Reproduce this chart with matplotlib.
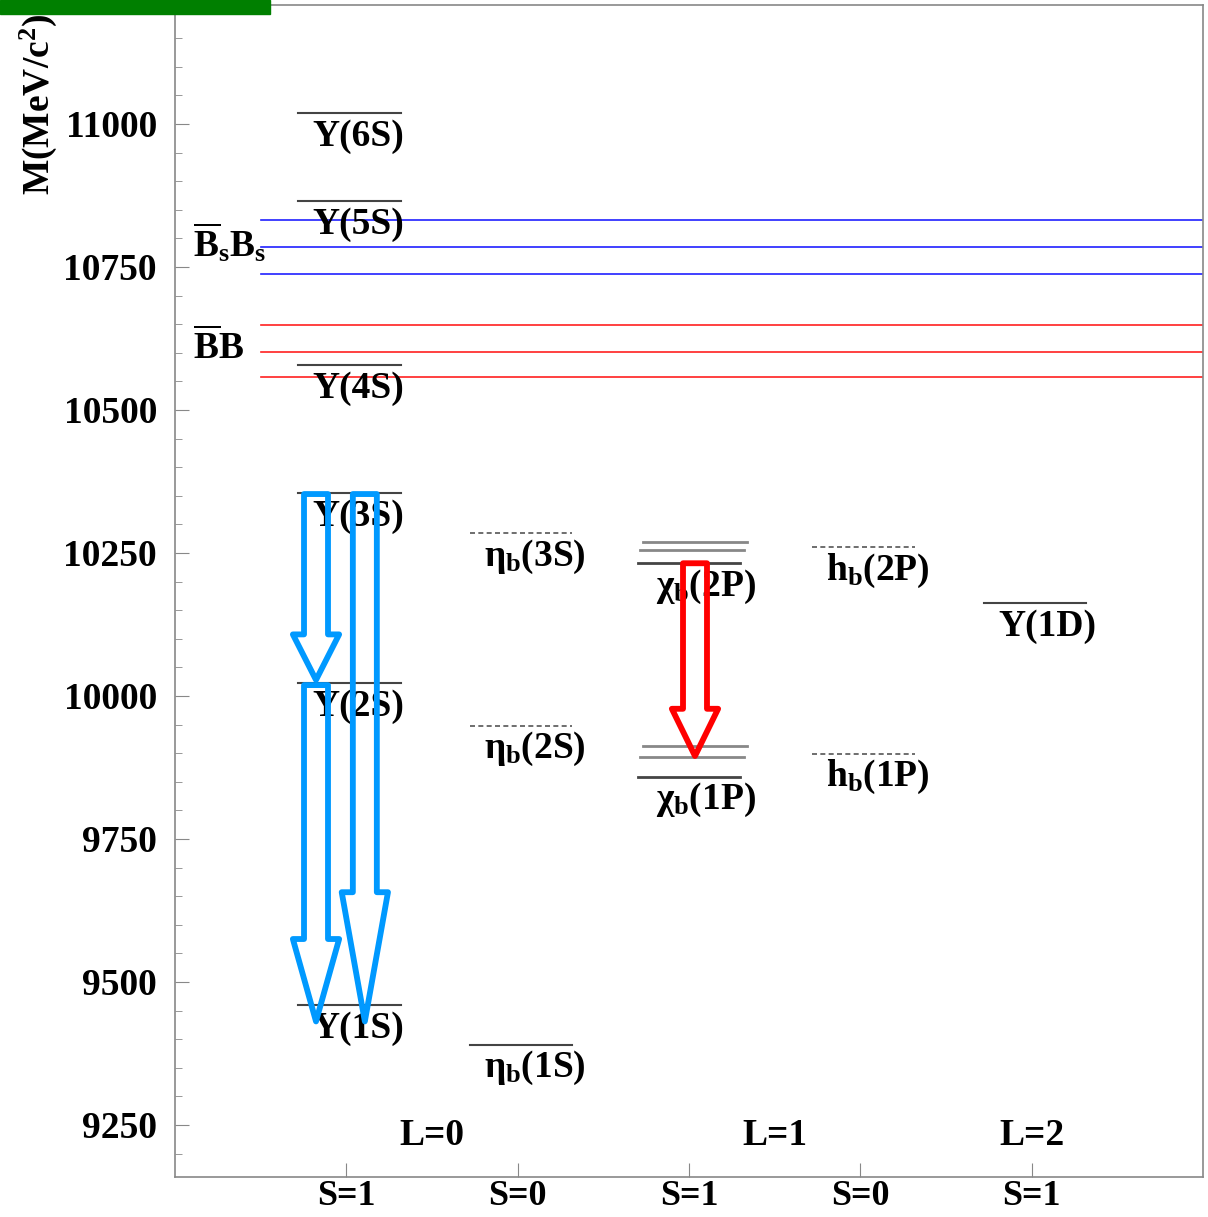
import matplotlib.pyplot as plt
from matplotlib.patches import Polygon, Rectangle

plt.rcParams['font.family'] = ['Liberation Serif', 'DejaVu Serif']
plt.rcParams['font.weight'] = 'bold'
plt.rcParams['mathtext.fontset'] = 'custom'
plt.rcParams['mathtext.rm'] = 'Liberation Serif:bold'
plt.rcParams['mathtext.it'] = 'Liberation Serif'
plt.rcParams['mathtext.bf'] = 'Liberation Serif:bold'

# bottomonium levels (MeV)
ups_names = ['Υ(1S)', 'Υ(2S)', 'Υ(3S)', 'Υ(4S)', 'Υ(5S)', 'Υ(6S)']
ups_mass = [9460, 10023, 10355, 10579, 10865, 11019]

etab_names = [r'$\eta_\mathbf{b}\mathbf{(1S)}$', r'$\eta_\mathbf{b}\mathbf{(2S)}$',
              r'$\eta_\mathbf{b}\mathbf{(3S)}$']
etab_mass = [9390, 9948, 10285]
etab_seen = [True, False, False]

chib_names = [r'$\chi_\mathbf{b}\mathbf{(1P)}$', r'$\chi_\mathbf{b}\mathbf{(2P)}$']
chib_mass = [[9859, 9893, 9912], [10232, 10255, 10269]]

hb_names = [r'$\mathbf{h_b(1P)}$', r'$\mathbf{h_b(2P)}$']
hb_mass = [9899, 10260]

ups1d_name = 'Υ(1D)'
ups1d_mass = 10163

# open-flavour thresholds
bsbs_thr = [10737, 10785, 10832]
bb_thr = [10558, 10601, 10649]

# transitions: (x, from, to)
blue_arrows = [(0.823, 10353, 10028), (1.108, 10353, 9431), (0.823, 10019, 9431)]
red_arrows = [(3.035, 10232, 9895)]

xticks = [1, 2, 3, 4, 5]
xticklabels = ['S=1', 'S=0', 'S=1', 'S=0', 'S=1']
l_pos = [1.5, 3.5, 5.0]
l_labels = ['L=0', 'L=1', 'L=2']

fig = plt.figure(figsize=(12.08, 12.17), dpi=100)
ax = fig.add_axes([175 / 1208, 40 / 1217, 1028 / 1208, 1172 / 1217])
ax.set_xlim(0, 6)
ax.set_ylim(9159, 11208)

FS = 27
lvl_kw = dict(color='#444444', lw=1.5)
off = 41  # label drop below level


def level(xc, m, **kw):
    ax.plot([xc - 0.28, xc + 0.32], [m, m], **kw)


for name, m in zip(ups_names, ups_mass):
    level(1, m, **lvl_kw)
    ax.text(1.07, m - off, name, ha='center', va='center', fontsize=FS)

for name, m, seen in zip(etab_names, etab_mass, etab_seen):
    if seen:
        level(2, m, **lvl_kw)
    else:
        level(2, m, color='#555555', lw=1.2, ls=(0, (3, 2)))
    ax.text(2.1, m - off, name, ha='center', va='center', fontsize=FS)

for name, ms in zip(chib_names, chib_mass):
    for j, m in enumerate(ms):
        col = '#444444' if j == 0 else '#888888'
        ax.plot([2.70 + 0.015 * j, 3.30 + 0.02 * j], [m, m], color=col, lw=2.0)
    ax.text(3.1, ms[0] - off, name, ha='center', va='center', fontsize=FS)

for name, m in zip(hb_names, hb_mass):
    level(4, m, color='#555555', lw=1.2, ls=(0, (3, 2)))
    ax.text(4.1, m - off, name, ha='center', va='center', fontsize=FS)

level(5, ups1d_mass, **lvl_kw)
ax.text(5.09, ups1d_mass - off, ups1d_name, ha='center', va='center', fontsize=FS)

for m in bsbs_thr:
    ax.plot([0.5, 6], [m, m], color='#2020ff', lw=1.2)
for m in bb_thr:
    ax.plot([0.5, 6], [m, m], color='#ff2020', lw=1.2)
ax.text(0.105, 10792, r'$\overline{\mathbf{B}}_\mathbf{s}\mathbf{B}_\mathbf{s}$',
        ha='left', va='center', fontsize=FS)
ax.text(0.105, 10608, r'$\overline{\mathbf{B}}\mathbf{B}$', ha='left', va='center',
        fontsize=FS)


def hollow_arrow(x, m0, m1, color):
    hw, HW = 0.07, 0.135
    hl = 0.245 * (m0 - m1)
    pts = [(x - hw, m0), (x + hw, m0), (x + hw, m1 + hl), (x + HW, m1 + hl),
           (x, m1), (x - HW, m1 + hl), (x - hw, m1 + hl)]
    ax.add_patch(Polygon(pts, closed=True, fill=False, edgecolor=color,
                         lw=4.2, joinstyle='round', zorder=5))


for x, m0, m1 in blue_arrows:
    hollow_arrow(x, m0, m1, '#0099ff')
for x, m0, m1 in red_arrows:
    hollow_arrow(x, m0, m1, '#ff0000')

for x, lab in zip(l_pos, l_labels):
    ax.text(x, 9231, lab, ha='center', va='center', fontsize=FS)

# axes styling
for s in ax.spines.values():
    s.set_color('#888888')
    s.set_linewidth(1.2)
ax.set_xticks(xticks)
ax.set_xticklabels(xticklabels)
ax.set_yticks(range(9250, 11001, 250))
ax.set_yticks(range(9200, 11201, 50), minor=True)
ax.tick_params(axis='x', direction='in', length=10, color='#888888',
               labelsize=26, pad=2)
ax.tick_params(axis='y', which='major', direction='in', length=10,
               color='#888888', labelsize=FS, pad=13)
ax.tick_params(axis='y', which='minor', direction='in', length=5, color='#888888')
for lab in ax.get_xticklabels() + ax.get_yticklabels():
    lab.set_fontweight('bold')

fig.text(38 / 1208, 1 - 14 / 1217, r'$\mathbf{M(MeV/c^{2})}$', rotation=90,
         ha='center', va='top', fontsize=FS)
fig.patches.append(Rectangle((0, 1 - 14 / 1217), 270 / 1208, 14 / 1217,
                             transform=fig.transFigure, color='#007f00', zorder=10))

fig.savefig('out.png', dpi=100)
